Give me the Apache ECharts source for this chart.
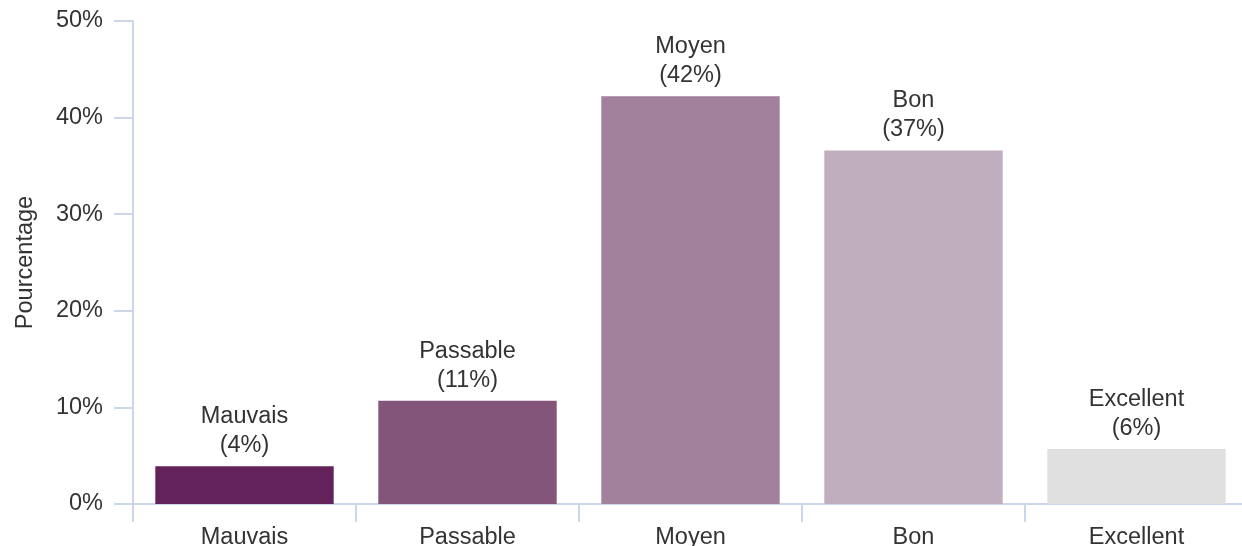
<!DOCTYPE html>
<html><head><meta charset="utf-8">
<script src="https://cdn.jsdelivr.net/npm/echarts@6/dist/echarts.min.js"></script>
<style>html,body{margin:0;padding:0;background:#fff}#c{width:1242px;height:546px}</style>
</head><body><div id="c"></div>
<script>
const categories = ["Mauvais", "Passable", "Moyen", "Bon", "Excellent"];
const values = [3.9, 10.7, 42.2, 36.6, 5.7];
const colors = ["#63235a", "#83557a", "#a1819b", "#c0aebf", "#e0e0e0"];
const yTicks = [0, 10, 20, 30, 40, 50];
const yTitle = "Pourcentage";

const chart = echarts.init(document.getElementById('c'));
const font = 'Arial, "Liberation Sans", sans-serif';
const fs = 23.5;
chart.setOption({
  animation: false,
  grid: {left: 133, top: 21, right: -6, bottom: 42, containLabel: false, outerBoundsMode: 'none'},
  xAxis: {
    type: 'category', data: categories,
    axisLine: {lineStyle: {color: '#ccd6eb', width: 2}},
    axisTick: {show: true, length: 18, lineStyle: {color: '#ccd6eb', width: 2}},
    axisLabel: {color: '#333', fontSize: fs, fontFamily: font, margin: 22}
  },
  yAxis: {
    type: 'value', min: yTicks[0], max: yTicks[yTicks.length - 1], interval: 10,
    name: yTitle, nameLocation: 'middle', nameGap: 95, nameRotate: 90,
    nameTextStyle: {color: '#333', fontSize: fs, fontFamily: font},
    axisLine: {show: true, lineStyle: {color: '#ccd6eb', width: 2}},
    axisTick: {show: true, length: 19, lineStyle: {color: '#ccd6eb', width: 2}},
    splitLine: {show: false},
    axisLabel: {color: '#333', fontSize: fs, fontFamily: font, margin: 30, padding: [7, 0, 0, 0], formatter: v => v + '%'}
  },
  series: [{
    type: 'bar', barWidth: '80%',
    data: values.map((v, i) => ({value: v, itemStyle: {color: colors[i]}})),
    label: {
      show: true, position: 'top', distance: 6,
      color: '#333', fontSize: fs, fontFamily: font, lineHeight: 29,
      formatter: p => p.name + '\n(' + Math.round(p.value) + '%)'
    }
  }]
});
</script></body></html>
